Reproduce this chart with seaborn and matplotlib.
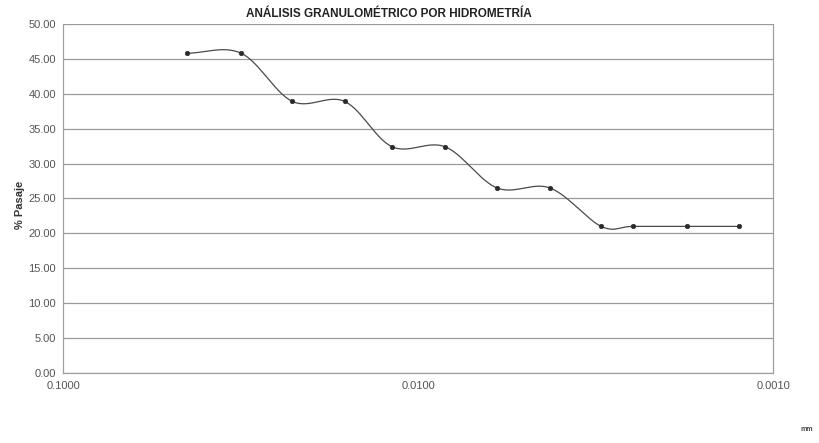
import numpy as np
import pandas as pd
import matplotlib
matplotlib.use("Agg")
import matplotlib.pyplot as plt
import seaborn as sns

# Hydrometer readings: particle diameter (mm) and percent passing
diametro_mm = [0.0448, 0.0315, 0.0226, 0.0161, 0.01183, 0.00839,
               0.00599, 0.00425, 0.00305, 0.00248, 0.00175, 0.00125]
pct_pasaje = [45.8, 45.8, 38.9, 38.9, 32.4, 32.4,
              26.5, 26.5, 21.0, 21.0, 21.0, 21.0]

y_ticks = [0, 5, 10, 15, 20, 25, 30, 35, 40, 45, 50]
x_ticks = [0.1, 0.01, 0.001]
x_tick_labels = ["0.1000", "0.0100", "0.0010"]

titulo = "ANÁLISIS GRANULOMÉTRICO POR HIDROMETRÍA"
etiqueta_y = "% Pasaje"
etiqueta_x = "mm"


def smooth_curve(x, y, steps=30):
    """Cardinal (Catmull-Rom) spline through the points, computed in log10(x)."""
    lx = np.log10(np.asarray(x, float))
    yy = np.asarray(y, float)
    px = np.concatenate([[2 * lx[0] - lx[1]], lx, [2 * lx[-1] - lx[-2]]])
    py = np.concatenate([[2 * yy[0] - yy[1]], yy, [2 * yy[-1] - yy[-2]]])
    out_x, out_y = [], []
    t = np.linspace(0, 1, steps, endpoint=False)
    for i in range(1, len(px) - 2):
        p0, p1, p2, p3 = (np.array([px[j], py[j]]) for j in range(i - 1, i + 3))
        c1 = p1 + (p2 - p0) / 6.0
        c2 = p2 - (p3 - p1) / 6.0
        b = ((1 - t) ** 3)[:, None] * p1 + (3 * (1 - t) ** 2 * t)[:, None] * c1 \
            + (3 * (1 - t) * t ** 2)[:, None] * c2 + (t ** 3)[:, None] * p2
        out_x.append(b[:, 0])
        out_y.append(b[:, 1])
    out_x.append([lx[-1]])
    out_y.append([yy[-1]])
    return 10 ** np.concatenate(out_x), np.concatenate(out_y)


sns.set_theme(style="white")
plt.rcParams["font.family"] = ["Liberation Sans", "DejaVu Sans"]

fig = plt.figure(figsize=(8.19, 4.43), dpi=100)
ax = fig.add_axes([0.077, 0.158, 0.867, 0.788])

sx, sy = smooth_curve(diametro_mm, pct_pasaje)
curve = pd.DataFrame({"d": sx, "p": sy})
pts = pd.DataFrame({"d": diametro_mm, "p": pct_pasaje})

sns.lineplot(data=curve, x="d", y="p", sort=False, ax=ax,
             color="#4a4a4a", linewidth=0.9, estimator=None)
sns.scatterplot(data=pts, x="d", y="p", ax=ax, marker="o", s=11,
                color="#2a2a2a", edgecolor="#2a2a2a", linewidth=0.4, zorder=5)

ax.set_xscale("log")
ax.set_xlim(0.1, 0.001)
ax.set_ylim(0, 50)
ax.set_xticks(x_ticks)
ax.set_xticklabels(x_tick_labels)
ax.xaxis.set_minor_locator(matplotlib.ticker.NullLocator())
ax.set_yticks(y_ticks)
ax.set_yticklabels([f"{v:.2f}" for v in y_ticks])

ax.grid(axis="y", color="#9a9a9a", linewidth=0.9)
ax.grid(axis="x", visible=False)
for side in ["right", "bottom", "left"]:
    ax.spines[side].set_visible(True)
    ax.spines[side].set_color("#a0a0a0")
    ax.spines[side].set_linewidth(0.9)
ax.spines["top"].set_visible(False)

ax.tick_params(axis="both", labelsize=8, colors="#555555", length=0, pad=5)
ax.tick_params(axis="x", pad=6)

ax.set_xlabel("")
ax.set_ylabel("")
fig.text(20 / 819, 1 - 205 / 443, etiqueta_y, rotation=90, fontsize=8,
         fontweight="bold", color="#333333", ha="center", va="center")
fig.text(389 / 819, 1 - 14 / 443, titulo, fontsize=8.5, fontweight="bold",
         color="#222222", ha="center", va="center")
fig.text(0.978, 0.022, etiqueta_x, fontsize=5, fontweight="bold", color="#444444",
         ha="left", va="bottom")

fig.savefig("out.png", dpi=100, facecolor="white")
